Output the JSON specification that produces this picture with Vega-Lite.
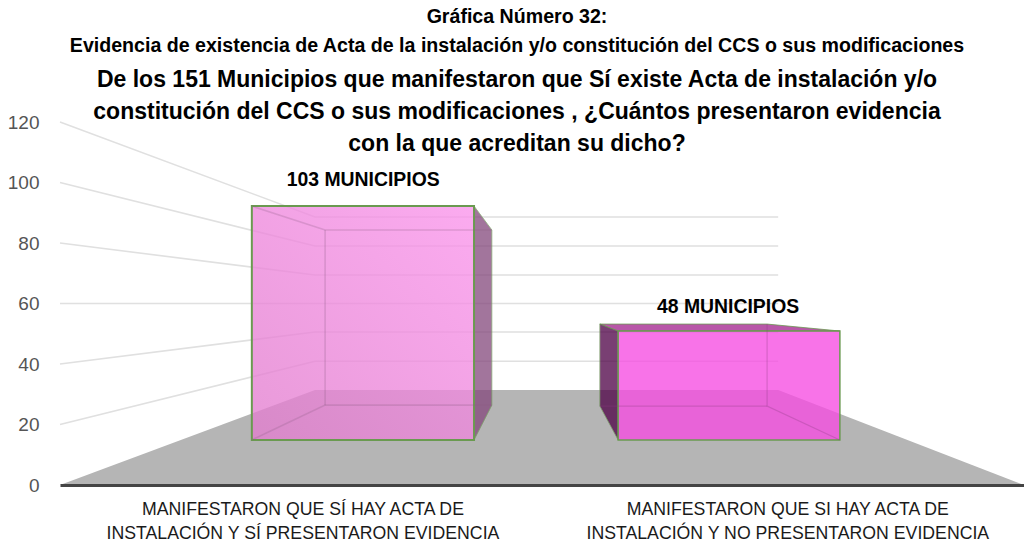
{
"$schema":"https://vega.github.io/schema/vega-lite/v6.json",
"width":964,"height":363,
"autosize":{"type":"none"},
"padding":{"left":60,"top":122,"right":0,"bottom":62},
"background":"white",
"config":{"view":{"stroke":null},"font":"Liberation Sans"},
"title":{"text":["Gráfica Número 32:","Evidencia de existencia de Acta de la instalación y/o constitución del CCS o sus modificaciones"],
"subtitle":["De los 151 Municipios que manifestaron que Sí existe Acta de instalación y/o","constitución del CCS o sus modificaciones , ¿Cuántos presentaron evidencia","con la que acreditan su dicho?"],
"anchor":"middle","dx":-25,"offset":-44,"font":"Liberation Sans","fontSize":19.6,"fontWeight":"bold","lineHeight":29,"color":"#000",
"subtitleFont":"Liberation Sans","subtitleFontSize":23,"subtitleFontWeight":"bold","subtitleLineHeight":32,"subtitleColor":"#000","subtitlePadding":12},
"datasets":{
"grid":[
{"t":120,"x":0,"y":120},{"t":120,"x":0.529,"y":88.6},{"t":120,"x":1.49,"y":88.6},
{"t":100,"x":0,"y":100},{"t":100,"x":0.529,"y":79},{"t":100,"x":1.49,"y":79},
{"t":80,"x":0,"y":80},{"t":80,"x":0.529,"y":69.4},{"t":80,"x":1.49,"y":69.4},
{"t":60,"x":0,"y":60},{"t":60,"x":0.529,"y":60},{"t":60,"x":1.49,"y":60},
{"t":40,"x":0,"y":40},{"t":40,"x":0.529,"y":50.6},{"t":40,"x":1.49,"y":50.6},
{"t":20,"x":0,"y":20},{"t":20,"x":0.529,"y":40.9},{"t":20,"x":1.49,"y":40.9}],
"floor":[{"x":0,"x2":2,"y":0},{"x":0.529,"x2":1.49,"y":31.4}],
"side1":[{"x":0.859,"y":92.2,"y2":14.9},{"x":0.896,"y":84.3,"y2":26.4}],
"front1":[{"x":0.398,"x2":0.859,"y":92.2,"y2":14.9}],
"edges1":[
{"e":"a","x":0.398,"y":92.2},{"e":"a","x":0.55,"y":84.3},{"e":"a","x":0.896,"y":84.3},
{"e":"b","x":0.55,"y":84.3},{"e":"b","x":0.55,"y":26.4},
{"e":"c","x":0.398,"y":14.9},{"e":"c","x":0.55,"y":26.4},{"e":"c","x":0.896,"y":26.4}],
"side2":[{"x":1.12,"y":53.2,"y2":26.1},{"x":1.158,"y":50.9,"y2":14.9}],
"top2":[{"y":50.9,"x":1.158,"x2":1.618},{"y":53.2,"x":1.12,"x2":1.467}],
"front2":[{"x":1.158,"x2":1.618,"y":50.9,"y2":14.9}],
"edges2":[
{"e":"a","x":1.467,"y":53.2},{"e":"a","x":1.467,"y":26.1},{"e":"a","x":1.618,"y":14.9},
{"e":"b","x":1.12,"y":26.1},{"e":"b","x":1.467,"y":26.1}],
"values":[{"label":"103 MUNICIPIOS","x":0.629,"y":100.8},{"label":"48 MUNICIPIOS","x":1.386,"y":58.8}],
"cats":[
{"label":"MANIFESTARON QUE SÍ HAY ACTA DE","x":0.504,"y":-8.3},
{"label":"INSTALACIÓN Y SÍ PRESENTARON EVIDENCIA","x":0.504,"y":-16.2},
{"label":"MANIFESTARON QUE SI HAY ACTA DE","x":1.51,"y":-8.3},
{"label":"INSTALACIÓN Y NO PRESENTARON EVIDENCIA","x":1.51,"y":-16.2}]
},
"encoding":{
"x":{"field":"x","type":"quantitative","scale":{"domain":[0,2],"nice":false,"zero":false},"axis":{"labels":false,"ticks":false,"title":null,"grid":false,"domainColor":"#444444","domainWidth":3,"zindex":1}},
"y":{"field":"y","type":"quantitative","scale":{"domain":[0,120],"nice":false},"axis":{"values":[0,20,40,60,80,100,120],"ticks":false,"domain":false,"grid":false,"title":null,"labelFontSize":19,"labelColor":"#555555","labelFont":"Liberation Sans","labelPadding":21,"zindex":1}}
},
"layer":[
{"data":{"name":"grid"},"mark":{"type":"line","stroke":"#e0e0e0","strokeWidth":1.6,"interpolate":"linear"},"encoding":{"detail":{"field":"t"},"order":{"field":"x"}}},
{"data":{"name":"floor"},"mark":{"type":"area","orient":"horizontal","fill":"#b5b5b5"},"encoding":{"x2":{"field":"x2"}}},
{"data":{"name":"side1"},"mark":{"type":"area","fill":"#84477c","opacity":0.75,"stroke":"#6a9a50","strokeWidth":0.8},"encoding":{"y2":{"field":"y2"}}},
{"data":{"name":"front1"},"mark":{"type":"rect","fillOpacity":0.78,"stroke":"#6a9a50","strokeWidth":2,"fill":{"gradient":"linear","x1":0,"y1":1,"x2":1,"y2":0,"stops":[{"offset":0,"color":"#e27dce"},{"offset":1,"color":"#fa93eb"}]}},"encoding":{"x2":{"field":"x2"},"y2":{"field":"y2"}}},
{"data":{"name":"edges1"},"mark":{"type":"line","stroke":"#8c5a84","strokeOpacity":0.25,"strokeWidth":1.6},"encoding":{"detail":{"field":"e"},"order":{"field":"x"}}},
{"data":{"name":"top2"},"mark":{"type":"area","orient":"horizontal","fill":"#b857a8","stroke":"#6a9a50","strokeWidth":0.8},"encoding":{"x2":{"field":"x2"}}},
{"data":{"name":"side2"},"mark":{"type":"area","fill":"#4d0045","opacity":0.75,"stroke":"#6a9a50","strokeWidth":0.8},"encoding":{"y2":{"field":"y2"}}},
{"data":{"name":"front2"},"mark":{"type":"rect","fill":"#f64ce1","fillOpacity":0.78,"stroke":"#6a9a50","strokeWidth":1.5},"encoding":{"x2":{"field":"x2"},"y2":{"field":"y2"}}},
{"data":{"name":"edges2"},"mark":{"type":"line","stroke":"#8c3a80","strokeOpacity":0.3,"strokeWidth":1.2},"encoding":{"detail":{"field":"e"},"order":{"field":"x"}}},
{"data":{"name":"values"},"mark":{"type":"text","font":"Liberation Sans","fontWeight":"bold","fontSize":19.4,"color":"#000000"},"encoding":{"text":{"field":"label"}}},
{"data":{"name":"cats"},"mark":{"type":"text","font":"Liberation Sans","fontSize":17.7,"color":"#1a1a1a"},"encoding":{"text":{"field":"label"}}}
]
}
